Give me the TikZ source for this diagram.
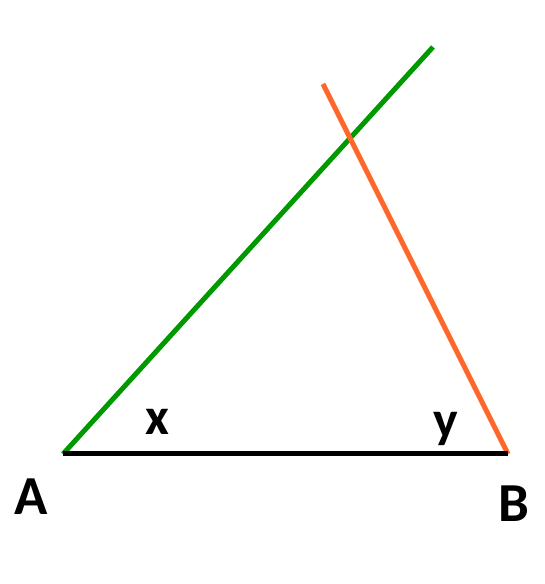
\documentclass[tikz,border=0pt]{standalone}
\usepackage{fontspec}
\setmainfont{Carlito}
\usepackage{tikz}
\usetikzlibrary{positioning}

\definecolor{lineGreen}{RGB}{0,153,0}
\definecolor{lineOrange}{RGB}{255,102,41}

\tikzset{
	side/.style={line width=5pt},
	vertex/.style={font=\bfseries\fontsize{55}{55}\selectfont,inner sep=0pt},
	angle label/.style={font=\bfseries\fontsize{52}{52}\selectfont,inner sep=0pt}
}

\begin{document}
\begin{tikzpicture}[x=1pt,y=1pt]

			\useasboundingbox (0,0) rectangle (544,584);

			\coordinate (A) at (63,130);
			\coordinate (B) at (508,130);
			\coordinate (G) at (433,537);
			\coordinate (O) at (323,500);

			\draw[lineGreen,side] (A) -- (G);
			\draw[lineOrange,side] (B) -- (O);
			\draw[black,side] (A) -- (B);

			\node[vertex] (labA) at (31,87) {A};
			\node[vertex] (labB) at (514,80) {B};
			\node[angle label] (labX) at (157,162) {x};
			\node[angle label] (labY) at (446,155) {y};

\end{tikzpicture}
\end{document}
